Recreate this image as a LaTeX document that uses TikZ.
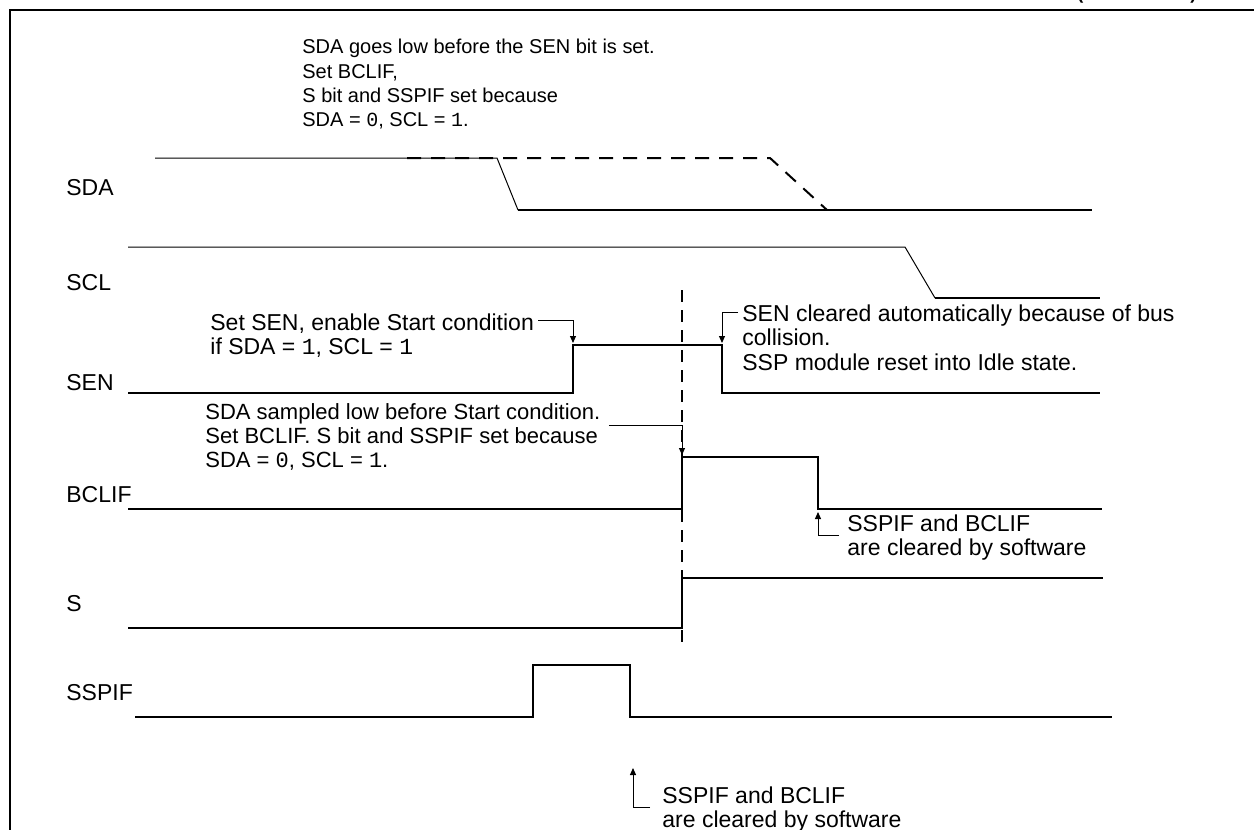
\documentclass[tikz,border=0pt]{standalone}
\usepackage{fontspec}
\setmainfont{Liberation Sans}
\newfontfamily\bitfont{Liberation Mono}
\usetikzlibrary{arrows.meta}
\newcommand{\bitv}[1]{{\bitfont #1}}

\begin{document}
\begin{tikzpicture}[x=0.5pt,y=-0.5pt,font=\fontsize{11.5}{12.3}\selectfont,
    wave/.style={line width=1pt,line join=miter},
    thinwave/.style={line width=0.5pt},
    ghost/.style={line width=1pt,dash pattern=on 7pt off 5pt},
    marker/.style={line width=0.8pt,dash pattern=on 6pt off 4pt},
    lead/.style={line width=0.5pt,-{Triangle[length=3.5pt,width=3pt]}},
    sig/.style={anchor=west,inner sep=0pt},
    note/.style={anchor=north west,align=left,inner sep=0pt}]
  \useasboundingbox (0,0) rectangle (1254,830);
  \clip (0,0) rectangle (1254,830);
  % frame and (cut) title
  \draw[line width=1.2pt] (1270,10) -- (10,10) -- (10,850);
  \node[anchor=base west,inner sep=0pt,font=\bfseries\fontsize{9}{12}\selectfont] (cont) at (1077,0) {(CONTINUED)};

  % signal names
  \node[sig] (lsda)  at (66,188) {SDA};
  \node[sig] (lscl)  at (66,283) {SCL};
  \node[sig] (lsen)  at (66,383) {SEN};
  \node[sig] (lbcl)  at (66,495) {BCLIF};
  \node[sig] (ls)    at (66,604) {S};
  \node[sig] (lspif) at (66,693) {SSPIF};

  % traces
  \draw[thinwave] (155,158) -- (497,158) -- (518,210);
  \draw[wave] (518,210) -- (1092,210);
  \draw[ghost] (407,158) -- (770,158) -- (827,210);
  \draw[thinwave] (128,247) -- (905,247) -- (935,298);
  \draw[wave] (935,298) -- (1100,298);
  \draw[wave] (128,393) -- (573,393) -- (573,345) -- (722,345) -- (722,393) -- (1100,393);
  \draw[wave] (128,509) -- (682,509) -- (682,457) -- (818,457) -- (818,509) -- (1102,509);
  \draw[wave] (128,628) -- (682,628) -- (682,578) -- (1103,578);
  \draw[wave] (135,717) -- (533,717) -- (533,665) -- (630,665) -- (630,717) -- (1112,717);
  \draw[marker] (682,290) -- (682,645);

  \coordinate (senon)  at (573,343);
  \coordinate (senoff) at (722,343);
  \coordinate (bclon)  at (682,455);
  \coordinate (bcloff) at (818,512);
  \coordinate (spoff)  at (633,768);

  % notes
  \node[note,font=\fontsize{10}{12.1}\selectfont] (nsda) at (302,39) {SDA goes low before the SEN bit is set.\\Set BCLIF,\\S bit and SSPIF set because\\SDA = \bitv{0}, SCL = \bitv{1}.};
  \node[note] (nsen) at (210,313) {Set SEN, enable Start condition\\if SDA = \bitv{1}, SCL = \bitv{1}};
  \node[note] (nclr) at (742,304) {SEN cleared automatically because of bus\\collision.\\SSP module reset into Idle state.};
  \node[note,font=\fontsize{11}{12.1}\selectfont] (nbcl) at (205,403) {SDA sampled low before Start condition.\\Set BCLIF. S bit and SSPIF set because\\SDA = \bitv{0}, SCL = \bitv{1}.};
  \node[note] (nsw1) at (847,514) {SSPIF and BCLIF\\are cleared by software};
  \node[note] (nsw2) at (662,786) {SSPIF and BCLIF\\are cleared by software};

  \draw[lead] ([xshift=2pt,yshift=-3.5pt]nsen.north east) -| (senon);
  \draw[lead] ([xshift=-2pt,yshift=-4pt]nclr.north west) -| (senoff);
  \draw[lead] ([xshift=4pt,yshift=-11pt]nbcl.north east) -| (bclon);
  \draw[lead] ([xshift=-4pt,yshift=-10.5pt]nsw1.north west) -| (bcloff);
  \draw[lead] ([xshift=-6pt,yshift=-10.5pt]nsw2.north west) -| (spoff);
\end{tikzpicture}
\end{document}
